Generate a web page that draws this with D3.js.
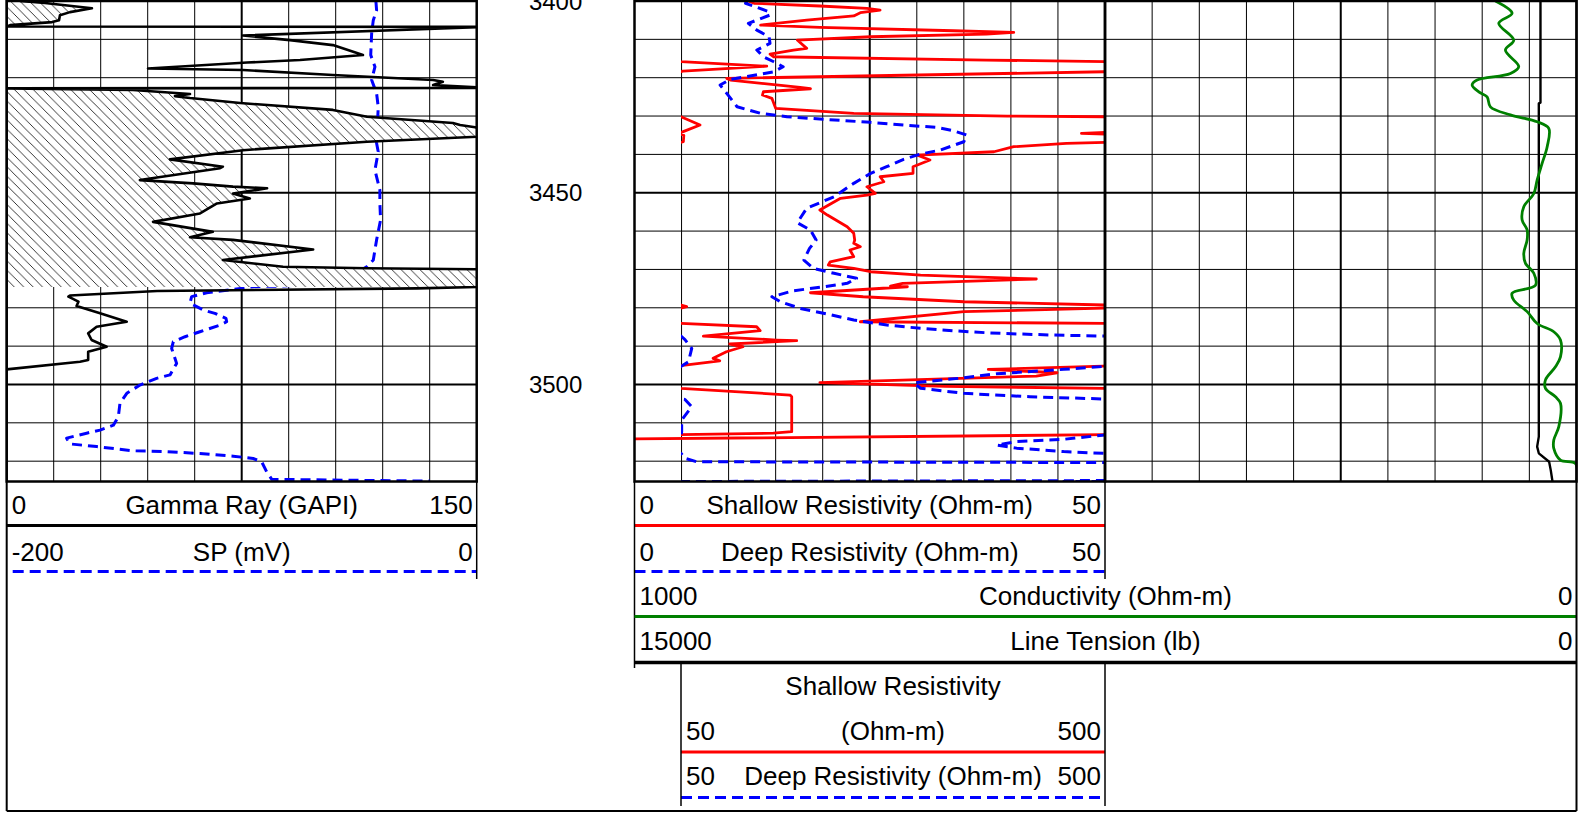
<!DOCTYPE html>
<html lang="en">
<head>
<meta charset="UTF-8">
<title>Well log</title>
<script src="https://d3js.org/d3.v7.min.js"></script>
<style>
  body { margin: 0; background: #fff; }
  svg { display: block; font-family: "Liberation Sans", Arial, sans-serif; }
</style>
</head>
<body>
<svg width="1581" height="813"></svg>
<script>
// depth in ft, values in curve units
const depthLabels = [3400, 3450, 3500];

const gammaRay = [
  [3400.0, 4.2], [3400.5, 12.2], [3401.9, 27.2], [3402.9, 20.2], [3403.7, 17.0], [3405.0, 16.7],
  [3405.5, 14.5], [3406.3, 1.1], [3406.66, 0.1], [3406.75, 153], [3406.84, 150], [3409.0, 75.4],
  [3410.2, 90.4], [3411.5, 104.1], [3414.1, 113.7], [3415.4, 93.6], [3416.05, 76.7], [3417.6, 45.1],
  [3418.0, 75.4], [3419.3, 104.1], [3420.6, 136.1], [3421.06, 139.2], [3421.9, 136.1], [3422.52, 150],
  [3422.65, 153], [3422.78, 0.1], [3423.22, 40.3], [3424.27, 58.5], [3424.8, 53.7], [3425.3, 58.5],
  [3426.6, 74.5], [3428.4, 104.1], [3430.2, 115.0], [3431.8, 142.4], [3432.35, 144.7], [3433.0, 150],
  [3433.4, 153], [3435.0, 153], [3435.4, 150], [3436.7, 115.0], [3438.9, 75.4], [3441.3, 52.1],
  [3443.2, 69.0], [3443.6, 68.1], [3446.7, 42.5], [3447.55, 59.5], [3448.4, 72.2], [3448.85, 83.1],
  [3450.2, 72.2], [3451.5, 77.6], [3452.8, 67.1], [3455.4, 61.7], [3457.6, 46.7], [3460.2, 65.8],
  [3461.6, 58.5], [3462.3, 72.2], [3464.8, 97.8], [3467.55, 69.0], [3469.3, 88.2], [3469.7, 115.0],
  [3469.97, 150], [3470.15, 153], [3474.33, 153], [3474.59, 150], [3474.93, 131], [3475.64, 48.0],
  [3476.8, 20.2], [3477.1, 19.7], [3478.4, 22.9], [3479.55, 22.3], [3481.45, 29.8], [3483.64, 38.3],
  [3484.94, 28.7], [3486.67, 26.0], [3488.4, 27.1], [3490.16, 31.9], [3491.46, 26.0], [3493.63, 26.0],
  [3494.07, 23.4], [3496.05, 0], [3496.8, -3]
];

// depth intervals with the shale hatch
const hatchZones = [[3400, 3406.66], [3422.78, 3474.59]];

const spCurve = [
  [3400, -42.9], [3402.4, -42.6], [3405.0, -44.0], [3408.4, -44.7], [3414.1, -45.1], [3417.15, -43.3],
  [3420.6, -44.7], [3424.1, -42.6], [3427.6, -41.9], [3437.1, -42.6], [3439.3, -41.9], [3444.1, -43.3],
  [3449.3, -41.2], [3452.8, -41.2], [3457.1, -40.9], [3462.3, -42.6], [3467.55, -44.0], [3469.3, -46.8],
  [3473.55, -58.2], [3474.33, -83.7], [3474.5, -95.1], [3475.2, -103.6], [3476.1, -114.9], [3477.1, -121.3],
  [3478.8, -122.0], [3480.6, -116.3], [3481.45, -111.4], [3482.76, -106.7], [3483.64, -106.4], [3484.5, -109.2],
  [3486.25, -117.8], [3487.55, -124.1], [3488.85, -129.1], [3490.6, -129.8], [3494.5, -127.7], [3497.5, -130.5],
  [3498.4, -136.2], [3500.15, -143.3], [3502.3, -148.9], [3504.9, -151.8], [3508.4, -152.5], [3510.6, -154.6],
  [3511.9, -160.3], [3512.7, -166.0], [3514.0, -174.5], [3515.5, -173.1], [3516.2, -161.7], [3517.3, -146.1],
  [3517.5, -131.9], [3518.0, -117.8], [3518.7, -103.6], [3519.3, -95.1], [3520.15, -91.5], [3522.75, -89.4],
  [3524.74, -87.2], [3525.2, -20]
];

const shallowRes = [
  [3400, 12.1], [3400.6, 12.7], [3401.3, 19.7], [3401.9, 24.7], [3402.36, 26.1], [3403.06, 24.0],
  [3403.9, 23.3], [3405.0, 18.3], [3406.27, 13.4], [3406.87, 19.7], [3407.76, 33.9], [3408.18, 40.3],
  [3408.62, 37.4], [3409.32, 25.1], [3410.18, 17.3], [3412.35, 18.3], [3412.79, 16.9], [3413.83, 14.4],
  [3414.54, 14.8], [3415.4, 37.4], [3415.83, 50], [3417.0, 141], [3418.3, 52], [3418.45, 49.9],
  [3420.17, 9.8], [3420.61, 10.2], [3422.52, 17.6], [3422.88, 18.7], [3423.66, 13.7], [3424.52, 13.6],
  [3425.38, 14.6], [3428.0, 15.0], [3429.3, 23.3], [3430.0, 39.6], [3430.18, 50], [3432.35, 70.2],
  [3434.0, 53], [3434.52, 47.5], [3435.0, 53], [3436.7, 52.5], [3437.12, 45.9], [3438.0, 40.3],
  [3439.31, 38.2], [3440.17, 30.0], [3441.47, 31.4], [3443.22, 29.6], [3444.94, 29.6], [3445.83, 26.1],
  [3447.13, 26.5], [3448.44, 24.7], [3450.16, 25.6], [3450.6, 24.7], [3451.46, 21.9], [3454.51, 19.7],
  [3455.82, 20.5], [3458.87, 22.6], [3460.59, 23.3], [3462.33, 23.4], [3463.2, 23.3], [3464.08, 24.0],
  [3464.94, 22.9], [3466.69, 23.3], [3468.0, 20.8], [3468.85, 20.6], [3469.71, 23.3], [3470.6, 25.1],
  [3471.46, 30.4], [3472.5, 42.7], [3472.77, 39.2], [3473.63, 28.5], [3474.33, 27.2], [3474.51, 29.0],
  [3476.08, 18.7], [3477.12, 24.3], [3478.43, 35.0], [3479.29, 50.2], [3479.7, 56], [3480.1, 49.9],
  [3481.0, 35.0], [3483.64, 24.0], [3484.06, 50], [3484.94, 130.3], [3485.98, 134.0], [3487.37, 73.7],
  [3488.41, 151.6], [3488.59, 172.8], [3489.45, 101.7], [3490.16, 115.8], [3491.46, 98.2], [3493.19, 84.1],
  [3493.82, 91.1], [3495.0, 52], [3495.2, 49.8], [3496.07, 37.6], [3496.94, 44.9], [3497.8, 42.7],
  [3499.5, 19.7], [3500.5, 33], [3501.0, 50], [3502.75, 165.7], [3503.2, 167.5], [3512.3, 167.5],
  [3512.7, 148], [3513.1, 50], [3514.2, 0], [3514.5, -2]
];

const deepRes = [
  [3400, 12.0], [3400.6, 11.8], [3402.8, 14.3], [3403.66, 14.4], [3405.83, 12.1], [3407.58, 13.0],
  [3409.32, 14.3], [3411.04, 14.4], [3411.93, 13.7], [3412.79, 13.0], [3414.54, 13.7], [3415.84, 14.8],
  [3417.14, 15.8], [3418.45, 14.8], [3420.43, 10.2], [3421.92, 9.1], [3424.08, 9.8], [3427.58, 10.9],
  [3429.3, 13.4], [3430.18, 16.2], [3430.78, 19.7], [3431.65, 25.1], [3432.35, 28.6], [3432.95, 32.1],
  [3433.83, 33.9], [3434.96, 35.3], [3436.7, 35.0], [3438.87, 32.5], [3439.91, 30.4], [3441.29, 28.6],
  [3443.22, 26.8], [3444.94, 25.1], [3447.55, 23.3], [3451.04, 21.2], [3454.07, 18.3], [3457.82, 17.3],
  [3459.73, 18.7], [3462.33, 19.3], [3464.5, 18.6], [3467.55, 18.0], [3469.71, 19.0], [3471.01, 21.2],
  [3472.32, 23.6], [3473.63, 22.6], [3474.67, 19.7], [3475.55, 16.9], [3477.12, 14.6], [3478.43, 15.5],
  [3480.15, 17.6], [3481.63, 20.5], [3483.2, 23.3], [3484.5, 26.8], [3485.36, 30.4], [3485.99, 33.9],
  [3486.51, 37.4], [3486.85, 41.0], [3487.11, 44.5], [3487.37, 50], [3488.3, 54.2], [3490.6, 61.4],
  [3494.1, 57.9], [3495.0, 52], [3495.3, 49.9], [3496.06, 45.6], [3497.21, 38.5], [3498.26, 35.0],
  [3499.56, 29.7], [3500.99, 30.4], [3502.31, 35.0], [3503.2, 42.0], [3503.8, 50.2], [3503.9, 54.2],
  [3505.8, 61.4], [3509.3, 50.7], [3512.3, 50.7], [3513.1, 50.2], [3514.3, 45.6], [3514.9, 40.6],
  [3515.8, 38.5], [3516.6, 40.6], [3517.5, 45.6], [3518.0, 50.2], [3519.26, 54.2], [3520.15, 66.6],
  [3520.4, 600], [3525.0, 600], [3525.3, 45.5]
];

const conductivity = [
  [3400, 172], [3403.2, 136.6], [3405.8, 164.9], [3410.2, 133.1], [3412.8, 150.8], [3417.1, 122.5],
  [3418.9, 140.1], [3420.6, 210.8], [3421.9, 221.4], [3423.7, 207.3], [3425.0, 189.6], [3427.6, 182.6],
  [3429.7, 140.1], [3431.5, 83.5], [3433.2, 58.8], [3438.0, 62.2], [3442.3, 72.8], [3446.7, 83.5],
  [3450.2, 90.5], [3453.65, 111.8], [3457.1, 115.3], [3459.7, 104.7], [3462.3, 104.7], [3465.8, 111.8],
  [3468.4, 108.2], [3471.0, 90.5], [3474.1, 86.9], [3476.2, 136.6], [3478.0, 133.1], [3481.0, 104.7],
  [3484.1, 83.5], [3486.25, 48.2], [3488.4, 34.0], [3492.8, 34.0], [3495.4, 44.6], [3498.8, 65.8],
  [3501.0, 65.8], [3503.2, 44.6], [3504.9, 34.0], [3511.0, 37.5], [3514.5, 48.2], [3516.65, 48.2],
  [3519.7, 34.0], [3520.6, 2.1], [3525.3, -1]
];

const lineTension = [
  [3400, 1146], [3426.5, 1146], [3426.7, 1199], [3513.6, 1199], [3516.2, 1252], [3517.95, 1199],
  [3520.15, 871], [3522.4, 818], [3525.3, 764]
];

// ---- layout ----
const svg = d3.select("svg");
const plotTop = 1, plotBottom = 481.5;
const t1 = { l: 6.7, r: 476.7 }, t2 = { l: 634.5, r: 1105 }, t3 = { l: 1105, r: 1576.5 };
const bkLeft = 681;
const frameBottom = 811;

const y = d3.scaleLinear().domain([3400, 3525.3]).range([plotTop, plotBottom]);
const xGR = d3.scaleLinear().domain([0, 150]).range([t1.l, t1.r]);
const xSP = d3.scaleLinear().domain([-200, 0]).range([t1.l, t1.r]);
const xRes = d3.scaleLinear().domain([0, 50]).range([t2.l, t2.r]);
const xResBk = d3.scaleLinear().domain([50, 500]).range([bkLeft, t2.r]);
const xCond = d3.scaleLinear().domain([1000, 0]).range([t3.l, t3.r]);
const xTen = d3.scaleLinear().domain([15000, 0]).range([t3.l, t3.r]);

const defs = svg.append("defs");
function clip(id, x0, x1) {
  defs.append("clipPath").attr("id", id).append("rect")
    .attr("x", x0).attr("y", plotTop).attr("width", x1 - x0).attr("height", plotBottom - plotTop);
}
clip("c1", t1.l, t1.r);
clip("c2", t2.l, t2.r);
clip("c3", t3.l, t3.r);
clip("cbk", bkLeft, t2.r);

// hatch pattern with white ground
const pat = defs.append("pattern").attr("id", "hatch").attr("patternUnits", "userSpaceOnUse")
  .attr("width", 9.4).attr("height", 9.4);
pat.append("rect").attr("width", 9.4).attr("height", 9.4).attr("fill", "#fff");
pat.append("path").attr("d", "M-1,-1L10.4,10.4M-1,8.4L1,10.4M8.4,-1L10.4,1")
  .attr("stroke", "#222").attr("stroke-width", 0.9);

// ---- grids ----
const depthGrid = d3.range(3410, 3525, 10);
function drawGrid(track, xs) {
  const g = svg.append("g");
  xs.forEach((x, i) => {
    if (i === 0 || i === xs.length - 1) return;
    g.append("line").attr("x1", x).attr("x2", x).attr("y1", plotTop).attr("y2", plotBottom)
      .attr("stroke", "#000").attr("stroke-width", i === 5 ? 2 : 1);
  });
  depthGrid.forEach(d => {
    g.append("line").attr("x1", track.l).attr("x2", track.r).attr("y1", y(d)).attr("y2", y(d))
      .attr("stroke", "#000").attr("stroke-width", d % 50 === 0 ? 2 : 1);
  });
}
drawGrid(t1, d3.range(0, 151, 15).map(xGR));
drawGrid(t2, d3.range(0, 51, 5).map(xRes));
drawGrid(t3, d3.range(0, 1001, 100).map(xCond));

function curve(clipId, data, xs, color, width, dash, shape) {
  const line = d3.line().x(d => xs(d[1])).y(d => y(d[0])).curve(shape || d3.curveLinear);
  svg.append("path").datum(data).attr("clip-path", `url(#${clipId})`)
    .attr("d", line).attr("fill", "none").attr("stroke", color)
    .attr("stroke-width", width).attr("stroke-linejoin", "round")
    .attr("stroke-dasharray", dash || null);
}

// ---- track 1 ----
curve("c1", spCurve, xSP, "#0000ff", 3, "10,6");
const hatchArea = d3.area().y(d => y(d[0])).x0(xGR(0)).x1(d => xGR(d[1]));
hatchZones.forEach(z => {
  const pts = gammaRay.filter(d => d[0] >= z[0] && d[0] <= z[1]);
  svg.append("path").datum(pts).attr("clip-path", "url(#c1)")
    .attr("d", hatchArea).attr("fill", "url(#hatch)");
});
curve("c1", gammaRay, xGR, "#000", 2.6);

// ---- track 2 ----
curve("c2", shallowRes, xRes, "#ff0000", 2.8);
curve("cbk", shallowRes, xResBk, "#ff0000", 2.8);
curve("c2", deepRes, xRes, "#0000ff", 3, "10,6");
curve("cbk", deepRes, xResBk, "#0000ff", 3, "10,6");

// ---- track 3 ----
curve("c3", lineTension, xTen, "#000", 2.4);
curve("c3", conductivity, xCond, "#008000", 2.8, null, d3.curveCatmullRom.alpha(0.5));

// ---- track borders ----
[t1, t2, t3].forEach(t => {
  svg.append("rect").attr("x", t.l).attr("y", plotTop).attr("width", t.r - t.l)
    .attr("height", plotBottom - plotTop).attr("fill", "none")
    .attr("stroke", "#000").attr("stroke-width", 2.5);
});

// depth labels
const depthX = (t1.r + t2.l) / 2;
depthLabels.forEach(d => {
  svg.append("text").attr("x", depthX).attr("y", y(d) + 8.6)
    .attr("text-anchor", "middle").attr("font-size", 24).text(d);
});

// ---- legends ----
function label(x, yb, str, anchor) {
  svg.append("text").attr("x", x).attr("y", yb).attr("text-anchor", anchor)
    .attr("font-size", 26).attr("fill", "#000").text(str);
}
function hline(x1, x2, yy, color, w, dash) {
  svg.append("line").attr("x1", x1).attr("x2", x2).attr("y1", yy).attr("y2", yy)
    .attr("stroke", color).attr("stroke-width", w).attr("stroke-dasharray", dash || null);
}
function vline(x, y1, y2, w) {
  svg.append("line").attr("x1", x).attr("x2", x).attr("y1", y1).attr("y2", y2)
    .attr("stroke", "#000").attr("stroke-width", w || 1.5);
}
function row(l, r, yb, left, mid, right) {
  label(l + 5, yb, left, "start");
  label((l + r) / 2, yb, mid, "middle");
  label(r - 4, yb, right, "end");
}

// track 1 header
row(t1.l, t1.r, 514, "0", "Gamma Ray (GAPI)", "150");
hline(t1.l, t1.r, 525.5, "#000", 3);
row(t1.l, t1.r, 561, "-200", "SP (mV)", "0");
hline(t1.l + 6, t1.r, 571.5, "#0000ff", 3, "11,6");
vline(t1.r, plotBottom, 579);

// track 2 header
row(t2.l, t2.r, 514, "0", "Shallow Resistivity (Ohm-m)", "50");
hline(t2.l, t2.r, 525.5, "#ff0000", 3);
row(t2.l, t2.r, 561, "0", "Deep Resistivity (Ohm-m)", "50");
hline(t2.l, t2.r, 571.5, "#0000ff", 3, "11,6");
vline(t2.r, plotBottom, 579);
vline(t2.l, plotBottom, 668);

// rows spanning tracks 2 and 3
row(t2.l, t3.r, 604.5, "1000", "Conductivity (Ohm-m)", "0");
hline(t2.l, t3.r, 616.5, "#008000", 3);
row(t2.l, t3.r, 650, "15000", "Line Tension (lb)", "0");
hline(t2.l, t3.r, 662.5, "#000", 3.5);

// backup scale box
const bkMid = (bkLeft + t2.r) / 2;
label(bkMid, 695, "Shallow Resistivity", "middle");
row(bkLeft, t2.r, 739.5, "50", "(Ohm-m)", "500");
hline(bkLeft, t2.r, 752, "#ff0000", 3);
row(bkLeft, t2.r, 785, "50", "Deep Resistivity (Ohm-m)", "500");
hline(bkLeft, t2.r, 797.5, "#0000ff", 3, "11,6");
vline(bkLeft, 662.5, 806);
vline(t2.r, 662.5, 806);

// outer frame
vline(t1.l, 0, frameBottom, 2);
vline(t3.r, 0, frameBottom, 2);
hline(t1.l, t3.r, frameBottom, "#000", 2);
</script>
</body>
</html>
